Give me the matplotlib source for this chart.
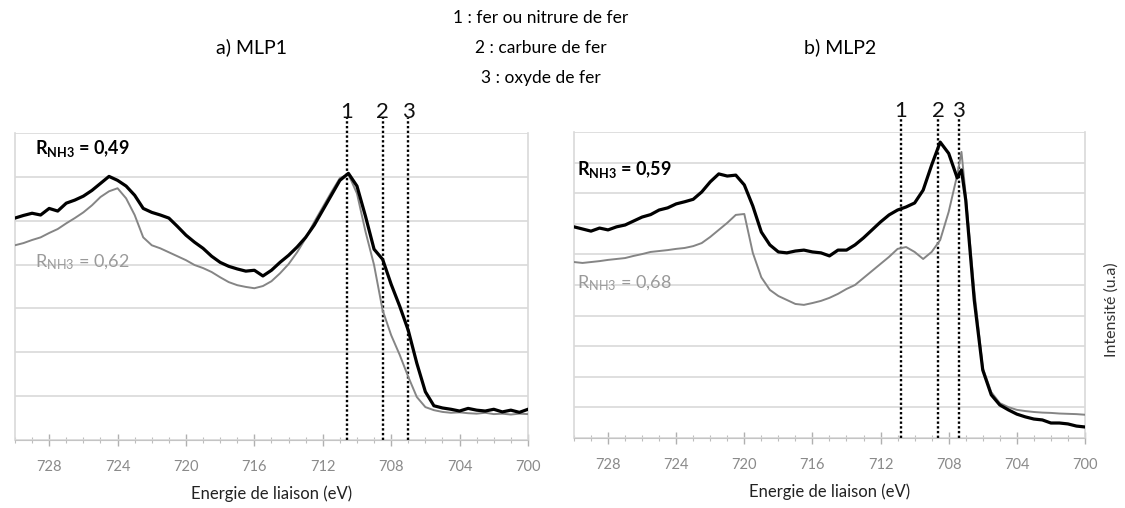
import numpy as np
import matplotlib
matplotlib.use("Agg")
import matplotlib.pyplot as plt
from matplotlib.ticker import MultipleLocator, FixedLocator

plt.rcParams['font.family'] = ['Lato', 'DejaVu Sans']
plt.rcParams['mathtext.default'] = 'regular'

# XPS Fe 2p spectra, binding energy (eV) and intensity (a.u.)
energy_a = [730.0, 729.5, 729.0, 728.5, 728.0, 727.5, 727.0, 726.5, 726.0, 725.5,
            725.0, 724.5, 724.0, 723.5, 723.0, 722.5, 722.0, 721.5, 721.0, 720.5,
            720.0, 719.5, 719.0, 718.5, 718.0, 717.5, 717.0, 716.5, 716.0, 715.5,
            715.0, 714.5, 714.0, 713.5, 713.0, 712.5, 712.0, 711.5, 711.0, 710.5,
            710.0, 709.5, 709.0, 708.5, 708.0, 707.5, 707.0, 706.5, 706.0, 705.5,
            705.0, 704.5, 704.0, 703.5, 703.0, 702.5, 702.0, 701.5, 701.0, 700.5,
            700.0]
mlp1_r049 = [5.06, 5.12, 5.17, 5.13, 5.28, 5.22, 5.40, 5.47, 5.56, 5.69,
             5.85, 6.01, 5.92, 5.79, 5.58, 5.28, 5.19, 5.13, 5.06, 4.87,
             4.67, 4.51, 4.37, 4.19, 4.05, 3.96, 3.90, 3.85, 3.87, 3.74,
             3.87, 4.05, 4.21, 4.40, 4.62, 4.90, 5.24, 5.58, 5.92, 6.08,
             5.79, 5.10, 4.35, 4.12, 3.55, 3.05, 2.50, 1.75, 1.10, 0.78,
             0.73, 0.70, 0.66, 0.72, 0.68, 0.66, 0.70, 0.64, 0.68, 0.63,
             0.70]
mlp1_r062 = [4.44, 4.49, 4.56, 4.62, 4.72, 4.81, 4.94, 5.06, 5.19, 5.35,
             5.54, 5.67, 5.74, 5.51, 5.13, 4.62, 4.44, 4.37, 4.28, 4.19,
             4.10, 3.99, 3.92, 3.83, 3.71, 3.60, 3.53, 3.49, 3.46, 3.51,
             3.62, 3.80, 4.01, 4.28, 4.60, 4.97, 5.31, 5.65, 5.97, 6.06,
             5.62, 4.75, 3.99, 2.96, 2.39, 1.94, 1.44, 0.98, 0.75, 0.68,
             0.64, 0.62, 0.63, 0.61, 0.60, 0.62, 0.59, 0.60, 0.58, 0.60,
             0.59]

energy_b = [730.0, 729.5, 729.0, 728.5, 728.0, 727.5, 727.0, 726.5, 726.0, 725.5,
            725.0, 724.5, 724.0, 723.5, 723.0, 722.5, 722.0, 721.5, 721.0, 720.5,
            720.0, 719.5, 719.0, 718.5, 718.0, 717.5, 717.0, 716.5, 716.0, 715.5,
            715.0, 714.5, 714.0, 713.5, 713.0, 712.5, 712.0, 711.5, 711.0, 710.5,
            710.0, 709.5, 709.0, 708.5, 708.0, 707.5, 707.25, 707.0, 706.5, 706.0,
            705.5, 705.0, 704.5, 704.0, 703.5, 703.0, 702.5, 702.0, 701.5, 701.0,
            700.5, 700.0]
mlp2_r059 = [6.90, 6.83, 6.76, 6.86, 6.80, 6.90, 6.96, 7.09, 7.22, 7.30,
             7.45, 7.52, 7.65, 7.72, 7.80, 8.04, 8.37, 8.63, 8.56, 8.59,
             8.27, 7.58, 6.73, 6.31, 6.08, 6.05, 6.11, 6.14, 6.08, 6.05,
             5.95, 6.14, 6.14, 6.31, 6.54, 6.80, 7.06, 7.29, 7.45, 7.55,
             7.68, 8.10, 8.92, 9.67, 9.30, 8.50, 8.76, 7.78, 4.51, 2.22,
             1.41, 1.08, 0.92, 0.78, 0.69, 0.62, 0.59, 0.49, 0.49, 0.46,
             0.39, 0.36]
mlp2_r068 = [5.75, 5.72, 5.75, 5.78, 5.82, 5.85, 5.88, 5.95, 6.01, 6.08,
             6.11, 6.14, 6.18, 6.21, 6.27, 6.37, 6.57, 6.80, 7.03, 7.29,
             7.32, 6.05, 5.25, 4.84, 4.64, 4.51, 4.38, 4.35, 4.41, 4.48,
             4.58, 4.71, 4.87, 5.00, 5.23, 5.46, 5.69, 5.92, 6.18, 6.24,
             6.08, 5.85, 6.08, 6.47, 7.39, 8.59, 9.35, 7.94, 4.84, 2.29,
             1.50, 1.14, 1.01, 0.92, 0.88, 0.85, 0.83, 0.82, 0.80, 0.79,
             0.78, 0.76]

# reference energies: 1 fer/nitrure, 2 carbure, 3 oxyde
peaks_a = [710.6, 708.5, 707.0]
peaks_b = [710.8, 708.6, 707.4]
peak_names = ['1', '2', '3']

tick_values = [728, 724, 720, 716, 712, 708, 704, 700]
tick_labels = ['728', '724', '720', '716', '712', '708', '704', '700']

fig = plt.figure(figsize=(11.25, 5.08), dpi=100)
ax1 = fig.add_axes([0.0133, 0.1339, 0.4560, 0.6043])
ax2 = fig.add_axes([0.5102, 0.1378, 0.4542, 0.6024])

grid_col = '#d9d9d9'


def style_axis(ax, ymax):
    ax.set_xlim(730, 700)
    ax.set_ylim(0, ymax)
    ax.yaxis.set_major_locator(MultipleLocator(1))
    ax.yaxis.grid(True, color=grid_col, lw=1.2)
    ax.tick_params(axis='y', left=False, labelleft=False)
    ax.xaxis.set_major_locator(FixedLocator(tick_values))
    ax.set_xticklabels(tick_labels)
    ax.xaxis.set_minor_locator(MultipleLocator(1))
    ax.tick_params(axis='x', which='major', direction='inout', length=9,
                   width=1, color='#b0b0b0', labelsize=10.5, labelcolor='#8a8a8a', pad=10)
    ax.tick_params(axis='x', which='minor', direction='inout', length=5,
                   width=0.8, color='#bdbdbd')
    ax.spines['top'].set_visible(False)
    for s in ['left', 'right']:
        ax.spines[s].set_color(grid_col)
        ax.spines[s].set_linewidth(1.2)
    ax.spines['bottom'].set_color('#c4c4c4')
    ax.set_axisbelow(True)
    ax.set_xlabel('Energie de liaison (eV)', fontsize=12, color='#222222', labelpad=8)


def mark_peaks(ax, peaks):
    for e, name in zip(peaks, peak_names):
        ax.axvline(e, ymin=0, ymax=1.05, color='black', lw=1.7,
                   linestyle=(0, (1, 1)), clip_on=False, zorder=1)
        ax.text(e, 1.07, name, transform=ax.get_xaxis_transform(),
                ha='center', va='center', fontsize=16, color='#111111')


style_axis(ax1, 7)
style_axis(ax2, 10)
mark_peaks(ax1, peaks_a)
mark_peaks(ax2, peaks_b)

ax1.plot(energy_a, mlp1_r062, color='#858585', lw=1.4, zorder=3)
ax1.plot(energy_a, mlp1_r049, color='black', lw=2.3, zorder=4)
ax2.plot(energy_b, mlp2_r068, color='#858585', lw=1.4, zorder=3)
ax2.plot(energy_b, mlp2_r059, color='black', lw=2.3, zorder=4)

ax1.text(728.8, 6.65, 'R$_{NH3}$ = 0,49', fontsize=13, fontweight='bold',
         color='black', va='center')
ax1.text(728.8, 4.05, 'R$_{NH3}$ = 0,62', fontsize=13, color='#9a9a9a', va='center')
ax2.text(729.8, 8.76, 'R$_{NH3}$ = 0,59', fontsize=13, fontweight='bold',
         color='black', va='center')
ax2.text(729.8, 5.07, 'R$_{NH3}$ = 0,68', fontsize=13, color='#9a9a9a', va='center')

fig.text(541 / 1125, 1 - 18 / 508, '1 : fer ou nitrure de fer', ha='center', va='center', fontsize=12.5)
fig.text(541 / 1125, 1 - 48 / 508, '2 : carbure de fer', ha='center', va='center', fontsize=12.5)
fig.text(541 / 1125, 1 - 78 / 508, '3 : oxyde de fer', ha='center', va='center', fontsize=12.5)
fig.text(252 / 1125, 1 - 47 / 508, 'a) MLP1', ha='center', va='center', fontsize=14)
fig.text(840 / 1125, 1 - 47 / 508, 'b) MLP2', ha='center', va='center', fontsize=14)
fig.text(1112 / 1125, 1 - 310 / 508, 'Intensité (u.a)', rotation=90,
         ha='center', va='center', fontsize=11.5, color='#333333')

fig.savefig('out.png', dpi=100)
